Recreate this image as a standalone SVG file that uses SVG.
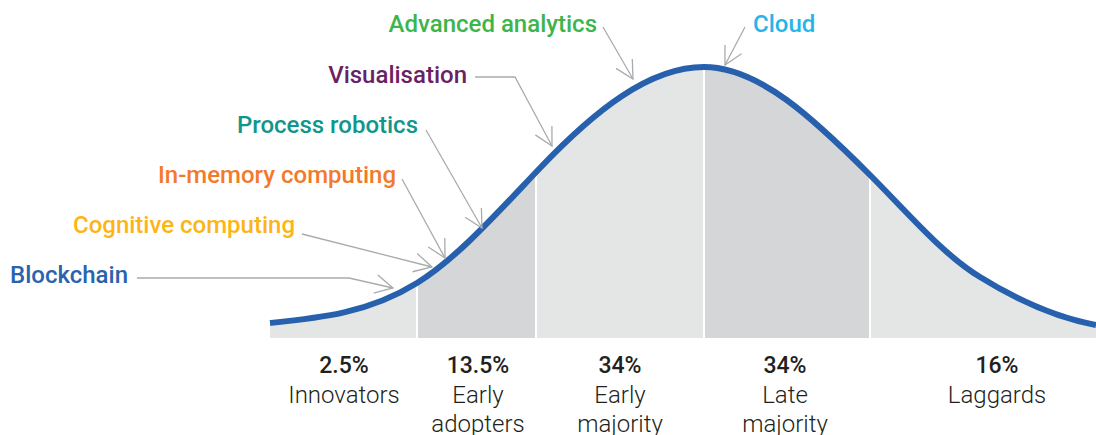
<svg xmlns="http://www.w3.org/2000/svg" width="1096" height="435" viewBox="0 0 1096 435">
  <style>
    .lbl { font-family: Roboto, "Liberation Sans", sans-serif; font-size: 24px; font-weight: 500; }
    .pct { font-family: Roboto, "Liberation Sans", sans-serif; font-size: 23px; font-weight: 500; fill: #231f20; text-anchor: middle; }
    .cat { font-family: Roboto, "Liberation Sans", sans-serif; font-size: 24px; font-weight: 300; fill: #231f20; text-anchor: middle; }
    .conn { fill: none; stroke: #a9abae; stroke-width: 1.3; marker-end: url(#arr); }
    .div { stroke: #ffffff; stroke-width: 2; }
  </style>
  <defs>
    <marker id="arr" markerUnits="userSpaceOnUse" markerWidth="40" markerHeight="40" refX="0" refY="0" viewBox="-20 -20 40 40" orient="auto" overflow="visible">
      <path d="M-17.7,-9.4 L0,0 L-17.7,9.4" fill="none" stroke="#a9abae" stroke-width="1.3"/>
    </marker>
    <clipPath id="area">
      <path d="M270,323 C319,318.1 368,313.4 417,283 C458,257.6 499,211 540,168 C594.7,110.6 649.3,67 704,67 C759.3,67 814.7,119.7 870,175 C906.7,211.7 943.3,255 980,277 C1018.7,301 1057.3,318 1096,325 L1096,338 L270,338 Z"/>
    </clipPath>
  </defs>

  <g id="segments" clip-path="url(#area)">
    <g id="seg-innovators"><rect x="270" y="50" width="147" height="288" fill="#e4e5e5"/></g>
    <g id="seg-early-adopters"><rect x="417" y="50" width="119" height="288" fill="#d5d6d8"/></g>
    <g id="seg-early-majority"><rect x="536" y="50" width="168" height="288" fill="#e4e5e5"/></g>
    <g id="seg-late-majority"><rect x="704" y="50" width="166" height="288" fill="#d5d6d8"/></g>
    <g id="seg-laggards"><rect x="870" y="50" width="226" height="288" fill="#e4e5e5"/></g>
    <line class="div" x1="417" y1="50" x2="417" y2="338"/>
    <line class="div" x1="536" y1="50" x2="536" y2="338"/>
    <line class="div" x1="704" y1="50" x2="704" y2="338"/>
    <line class="div" x1="870" y1="50" x2="870" y2="338"/>
  </g>

  <g id="curve">
    <path d="M270,323 C319,318.1 368,313.4 417,283 C458,257.6 499,211 540,168 C594.7,110.6 649.3,67 704,67 C759.3,67 814.7,119.7 870,175 C906.7,211.7 943.3,255 980,277 C1018.7,301 1057.3,318 1096,325" fill="none" stroke="#2761ad" stroke-width="6"/>
  </g>

  <g id="connectors">
    <path class="conn" d="M603,27 L633,79"/>
    <path class="conn" d="M745,27 L725,65"/>
    <path class="conn" d="M475,77 L515,77 L552,146"/>
    <path class="conn" d="M426,130 L482,228"/>
    <path class="conn" d="M402,179 L445,258"/>
    <path class="conn" d="M302,234 L432,267"/>
    <path class="conn" d="M137,278 L349,278 L393,288"/>
  </g>

  <g id="node-advanced-analytics"><text class="lbl" x="597" y="32" text-anchor="end" fill="#3db54a">Advanced analytics</text></g>
  <g id="node-cloud"><text class="lbl" x="753" y="32" fill="#27b5e8">Cloud</text></g>
  <g id="node-visualisation"><text class="lbl" x="467" y="83" text-anchor="end" fill="#6b1f66">Visualisation</text></g>
  <g id="node-process-robotics"><text class="lbl" x="418" y="133" text-anchor="end" fill="#11968b">Process robotics</text></g>
  <g id="node-in-memory"><text class="lbl" x="396" y="183" text-anchor="end" fill="#f37a2b">In-memory computing</text></g>
  <g id="node-cognitive"><text class="lbl" x="295" y="233" text-anchor="end" fill="#fdb515">Cognitive computing</text></g>
  <g id="node-blockchain"><text class="lbl" x="128" y="283" text-anchor="end" fill="#2a62ae">Blockchain</text></g>

  <g id="label-innovators">
    <text class="pct" x="344" y="373">2.5%</text>
    <text class="cat" x="344" y="403">Innovators</text>
  </g>
  <g id="label-early-adopters">
    <text class="pct" x="478" y="373">13.5%</text>
    <text class="cat" x="478" y="403">Early</text>
    <text class="cat" x="478" y="432">adopters</text>
  </g>
  <g id="label-early-majority">
    <text class="pct" x="620" y="373">34%</text>
    <text class="cat" x="620" y="403">Early</text>
    <text class="cat" x="620" y="432">majority</text>
  </g>
  <g id="label-late-majority">
    <text class="pct" x="785" y="373">34%</text>
    <text class="cat" x="785" y="403">Late</text>
    <text class="cat" x="785" y="432">majority</text>
  </g>
  <g id="label-laggards">
    <text class="pct" x="997" y="373">16%</text>
    <text class="cat" x="997" y="403">Laggards</text>
  </g>
</svg>
